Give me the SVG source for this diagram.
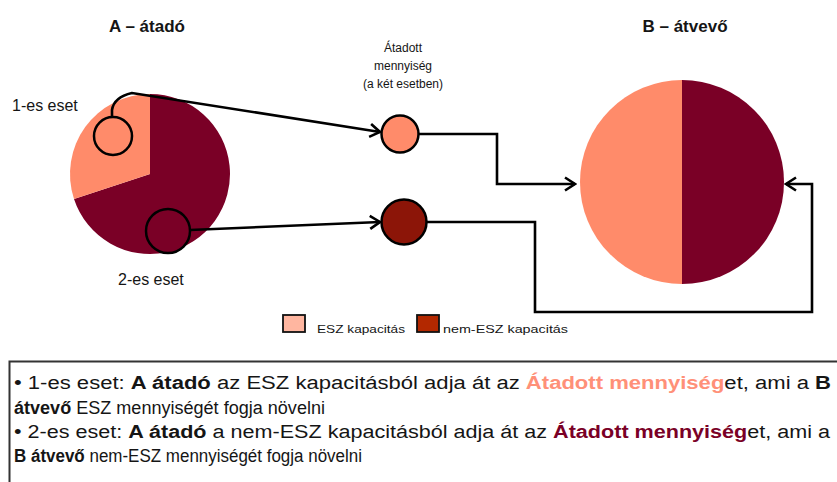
<svg xmlns="http://www.w3.org/2000/svg" width="837" height="482" viewBox="0 0 837 482">
<style>
text{font-family:"Liberation Sans",Arial,sans-serif;fill:#151515}
.t{font-size:17px;font-weight:bold}
.lbl{font-size:16px}
.sm{font-size:12px}
.lg{font-size:10.5px}
.bx{font-size:18px}
.b{font-weight:bold}
.conn{fill:none;stroke:#000;stroke-width:2.6;stroke-linejoin:miter}
.ring{stroke:#000;stroke-width:2.5}
.light{fill:#ff8b6a}
.dark{fill:#7a0026}
</style>
<defs>
<marker id="arr" markerUnits="userSpaceOnUse" markerWidth="14" markerHeight="16" viewBox="0 0 14 16" refX="12" refY="8" orient="auto">
<path d="M2,1.5 L12,8 L2,14.5" fill="none" stroke="#000" stroke-width="2.6"/>
</marker>
</defs>

<g id="titleA"><text class="t" x="147" y="32" text-anchor="middle">A – átadó</text></g>
<g id="titleB"><text class="t" x="685" y="32" text-anchor="middle">B – átvevő</text></g>

<g id="pieA">
<path class="dark" d="M150,174 L150,94 A80,80 0 1 1 74,199 Z"/>
<path class="light" d="M150,174 L150,94 A80,80 0 0 0 74,199 Z"/>
</g>

<g id="pieB">
<path class="light" d="M682,80 A102,102 0 0 0 682,284 Z"/>
<path class="dark" d="M682,80 A102,102 0 0 1 682,284 Z"/>
</g>

<g id="case1"><circle class="light ring" cx="113" cy="136" r="19"/>
<text class="lbl" x="12" y="111">1-es eset</text></g>
<g id="case2"><circle class="dark ring" cx="168" cy="231" r="22"/>
<text class="lbl" x="118" y="285">2-es eset</text></g>

<g id="transferLabel">
<text class="sm" text-anchor="middle" x="403" y="52">Átadott</text>
<text class="sm" text-anchor="middle" x="403" y="70">mennyiség</text>
<text class="sm" text-anchor="middle" x="403" y="88">(a két esetben)</text>
</g>

<g id="nodeLight"><circle class="light ring" cx="400" cy="134" r="18.5"/></g>
<g id="nodeDark"><circle class="ring" fill="#8c1508" cx="404" cy="222" r="22.5"/></g>

<g id="connectors">
<path class="conn" d="M112,116 L112,110 Q114,97 132,93 L380,132" marker-end="url(#arr)"/>
<path class="conn" d="M190,230 L380,222" marker-end="url(#arr)"/>
<path class="conn" d="M419,134 L497,134 L497,184 L575,184" marker-end="url(#arr)"/>
<path class="conn" d="M427,222 L535,222 L535,312 L812,312 L812,184 L786,184" marker-end="url(#arr)"/>
</g>

<g id="legend">
<rect x="283" y="315" width="22" height="17" fill="#ffb6a0" stroke="#111" stroke-width="1.8"/>
<text class="lg" x="317" y="333" textLength="88" lengthAdjust="spacingAndGlyphs">ESZ kapacitás</text>
<rect x="417" y="315" width="22" height="17" fill="#b32800" stroke="#111" stroke-width="1.8"/>
<text class="lg" x="443" y="333" textLength="125" lengthAdjust="spacingAndGlyphs">nem-ESZ kapacitás</text>
</g>

<g id="note">
<rect x="9.5" y="361.5" width="900" height="200" fill="none" stroke="#333" stroke-width="2"/>
<text class="bx" x="14" y="389" textLength="817" lengthAdjust="spacingAndGlyphs">• 1-es eset: <tspan class="b">A átadó</tspan> az ESZ kapacitásból adja át az <tspan class="b" style="fill:#ff9078">Átadott mennyiség</tspan>et, ami a <tspan class="b">B</tspan></text>
<text class="bx" x="14" y="414" textLength="311" lengthAdjust="spacingAndGlyphs"><tspan class="b">átvevő</tspan> ESZ mennyiségét fogja növelni</text>
<text class="bx" x="14" y="438" textLength="816" lengthAdjust="spacingAndGlyphs">• 2-es eset: <tspan class="b">A átadó</tspan> a nem-ESZ kapacitásból adja át az <tspan class="b" style="fill:#7a0026">Átadott mennyiség</tspan>et, ami a</text>
<text class="bx" x="14" y="462" textLength="348" lengthAdjust="spacingAndGlyphs"><tspan class="b">B átvevő</tspan> nem-ESZ mennyiségét fogja növelni</text>
</g>
</svg>
